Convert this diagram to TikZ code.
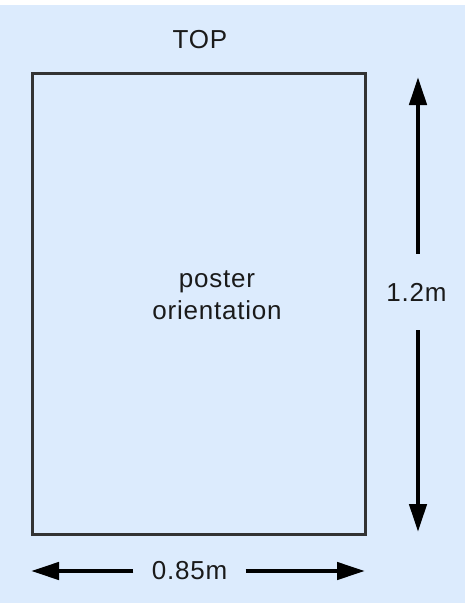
\documentclass[tikz,border=0pt]{standalone}
\usepackage{fontspec}
\setmainfont{Liberation Sans}[LetterSpace=3]
\usetikzlibrary{arrows.meta}
\definecolor{bg}{HTML}{DCEBFD}
\definecolor{framegray}{HTML}{333333}
\definecolor{textgray}{HTML}{1A1A1A}
\tikzset{
  lbl/.style={font=\fontsize{26}{32}\selectfont, text=textgray, inner sep=0pt, align=center},
  dimarrow/.style={line width=4.5pt, -{Triangle[length=28pt,width=17pt]}, black},
  frame/.style={draw=framegray, line width=2.5pt, inner sep=0pt, anchor=north west}
}
\begin{document}
\begin{tikzpicture}[x=1pt,y=-1pt]
\useasboundingbox (0,0) rectangle (465,603);
\fill[white] (0,0) rectangle (465,603);
\fill[bg] (0,5) rectangle (465,603);
% poster frame
\node[frame, minimum width=333pt, minimum height=461pt] (poster) at (31,72) {};
\node[lbl] (top) at (200,40) {TOP};
\node[lbl] (orient) at (217,295) {poster\\orientation};
% vertical dimension
\coordinate (vtop) at (418,77);
\coordinate (vbot) at (418,532);
\node[lbl, minimum height=76pt] (vlab) at (416.5,292) {1.2m};
\draw[dimarrow] (vlab.north -| vtop) -- (vtop);
\draw[dimarrow] (vlab.south -| vbot) -- (vbot);
% horizontal dimension
\coordinate (hleft) at (31,571);
\coordinate (hright) at (365,571);
\node[lbl, minimum width=112pt] (hlab) at (189.5,571) {0.85m};
\draw[dimarrow] (hlab.west |- hleft) -- (hleft);
\draw[dimarrow] (hlab.east |- hright) -- (hright);
\end{tikzpicture}
\end{document}
